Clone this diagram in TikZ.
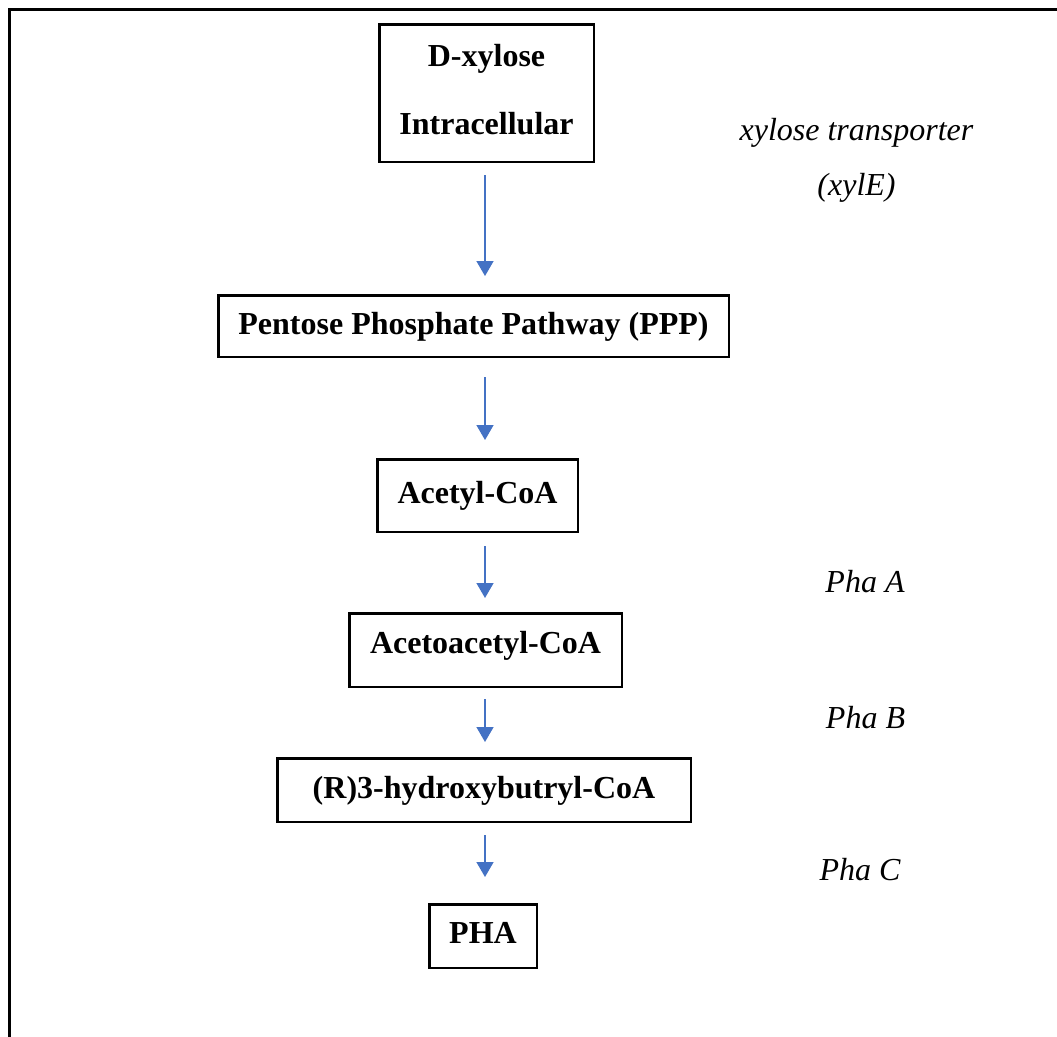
\documentclass[tikz,border=0pt]{standalone}
\usepackage{fontspec}
\setmainfont{Liberation Serif}
\usetikzlibrary{arrows.meta}
\definecolor{arrowblue}{HTML}{4472C4}
\begin{document}
\begin{tikzpicture}[x=1pt,y=-1pt,
  stage/.style={draw=black, line width=2.5pt, inner sep=0pt,
    font=\fontsize{32}{38}\selectfont\bfseries},
  oneline/.style={text height=22pt, text depth=#1},
  oneline/.default=7pt,
  enzyme/.style={anchor=base, inner sep=0pt, font=\fontsize{32}{38}\selectfont\itshape},
  flow/.style={draw=arrowblue, line width=1.5pt,
    -{Triangle[width=17pt,length=15pt]}, arrowblue}
]
\useasboundingbox (0,0) rectangle (1057,1036);
\clip (0,0) rectangle (1057,1036);
\fill[white] (0,0) rectangle (1057,1036);
% outer frame (continues beyond the right and bottom edges)
\draw[line width=2.8pt] (9.5,1100) -- (9.5,9.5) -- (1100,9.5);

\coordinate (axis) at (485,0);

\node[stage, align=center, minimum width=214.5pt, minimum height=137.5pt]
  (xyl) at (486.5,93) {D-xylose\\[30pt]Intracellular\rule[-7pt]{0pt}{0pt}};
\node[stage, oneline=5pt, minimum width=510.5pt, minimum height=61.5pt]
  (ppp) at (473.5,326) {Pentose Phosphate Pathway (PPP)};
\node[stage, oneline, minimum width=200.5pt, minimum height=72.5pt]
  (acetyl) at (477.5,495.5) {Acetyl-CoA};
\node[stage, oneline=15pt, minimum width=272.5pt, minimum height=73.5pt]
  (acac) at (485.5,650) {Acetoacetyl-CoA};
\node[stage, oneline=5pt, minimum width=413.5pt, minimum height=63.5pt]
  (hb) at (484,790) {(R)3-hydroxybutryl-CoA};
\node[stage, oneline, minimum width=107.5pt, minimum height=63.5pt]
  (pha) at (483,936) {PHA};

\draw[flow, shorten <=12pt, shorten >=18pt] (xyl.south -| axis) -- (ppp.north -| axis);
\draw[flow, shorten <=19pt, shorten >=18pt] (ppp.south -| axis) -- (acetyl.north -| axis);
\draw[flow, shorten <=13pt, shorten >=14pt] (acetyl.south -| axis) -- (acac.north -| axis);
\draw[flow, shorten <=11pt, shorten >=15pt] (acac.south -| axis) -- (hb.north -| axis);
\draw[flow, shorten <=12pt, shorten >=26pt] (hb.south -| axis) -- (pha.north -| axis);

\node[enzyme] (xylt) at (856.5,140) {xylose transporter};
\node[enzyme] (xyle) at (856.5,195) {(xylE)};
\node[enzyme] (phaA) at (865,592) {Pha A};
\node[enzyme] (phaB) at (865.5,728) {Pha B};
\node[enzyme] (phaC) at (860,880) {Pha C};
\end{tikzpicture}
\end{document}
